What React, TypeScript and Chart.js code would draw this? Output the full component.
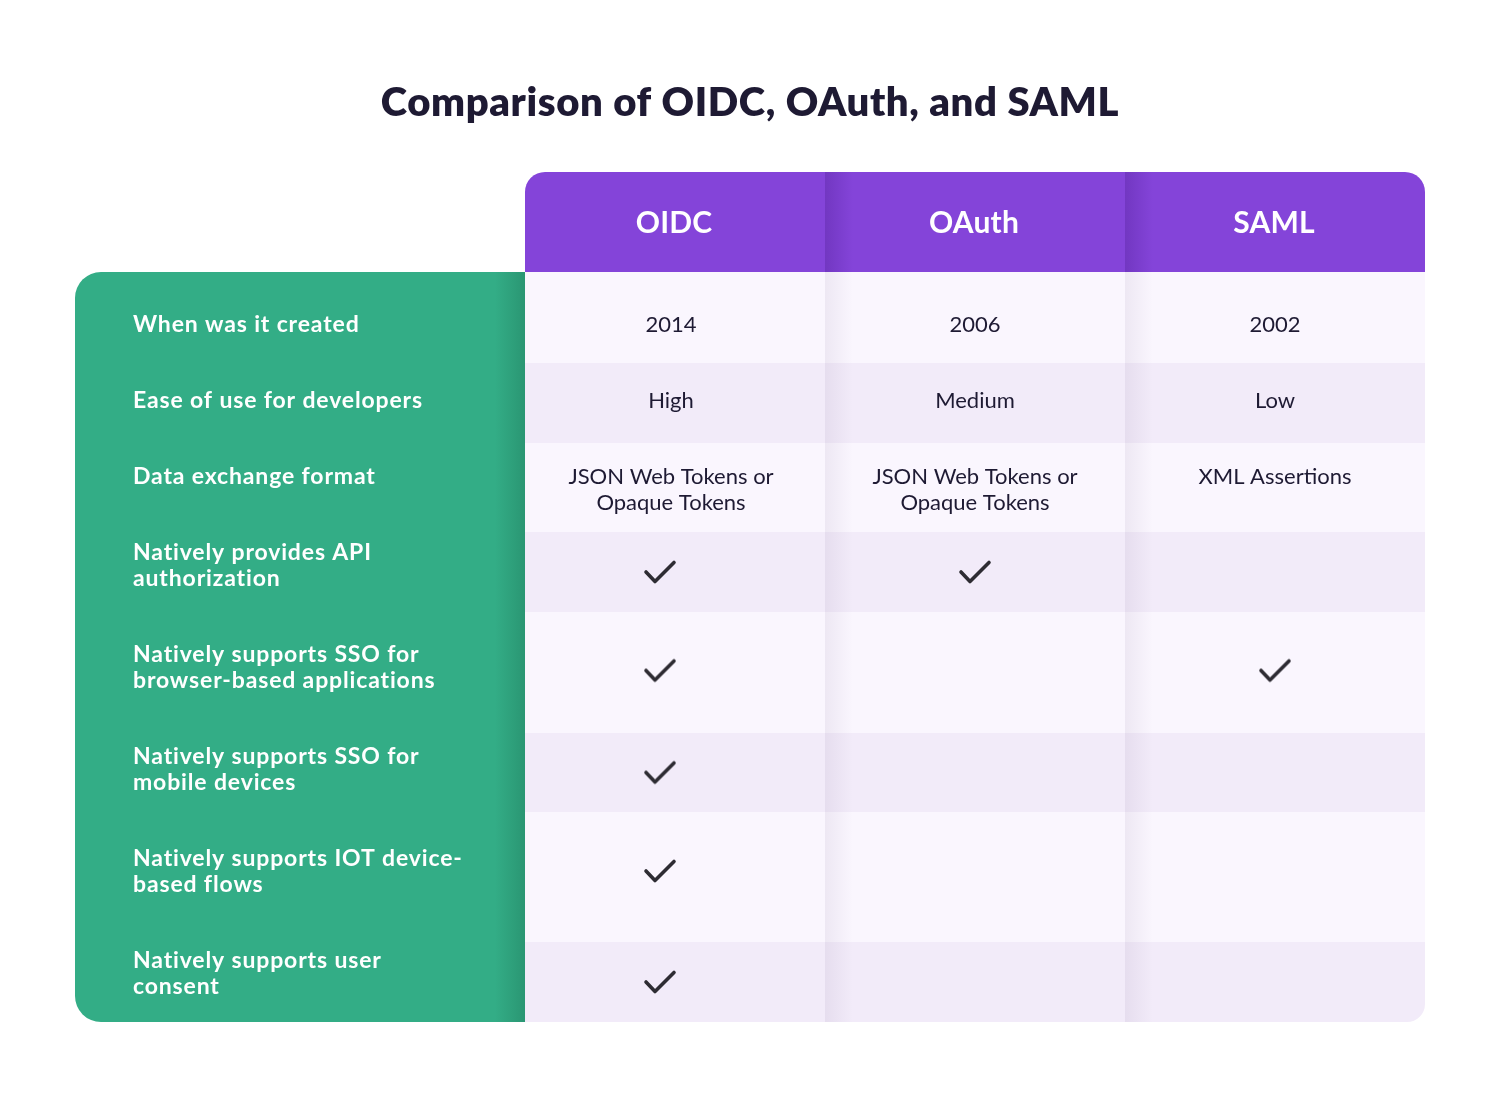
import React, { useEffect, useRef } from "react";
import { Chart, registerables } from "chart.js";

Chart.register(...registerables);

// ---------------- data ----------------
const chartTitle = "Comparison of OIDC, OAuth, and SAML";
const columns = ["OIDC", "OAuth", "SAML"];
const criteria: string[][] = [
  ["When was it created"],
  ["Ease of use for developers"],
  ["Data exchange format"],
  ["Natively provides API", "authorization"],
  ["Natively supports SSO for", "browser-based applications"],
  ["Natively supports SSO for", "mobile devices"],
  ["Natively supports IOT device-", "based flows"],
  ["Natively supports user", "consent"],
];
type Cell = string | boolean;
const oidcValues: Cell[] = ["2014", "High", "JSON Web Tokens or\nOpaque Tokens", true, true, true, true, true];
const oauthValues: Cell[] = ["2006", "Medium", "JSON Web Tokens or\nOpaque Tokens", true, false, false, false, false];
const samlValues: Cell[] = ["2002", "Low", "XML Assertions", false, true, false, false, false];
const columnValues: Cell[][] = [oidcValues, oauthValues, samlValues];
// row sizes in table units
const headerHeight = 100;
const rowHeights = [91, 80, 89, 80, 121, 79, 130, 80];

// ---------------- styles ----------------
const PURPLE = "#8444d9";
const GREEN = "#33ad86";
const ROW_LIGHT = "#faf6fe";
const ROW_DARK = "#f2ebf9";
const TEXT_DARK = "#1e1a33";
const CHECK_COLOR = "#2e2c33";
const textTopOffsets = [53, 38, 34, 21, 43, 24, 47, 19];
const LINE_H = 26;
const columnTextShift = [-4, 0, 0];
const columnCheckShift = [-15, 0, 0];
const checkRowShift = [0, 0, 0, 0, -2, 0, -6, 0];

const rowTops: number[] = [];
{
  let acc = headerHeight;
  for (const h of rowHeights) {
    rowTops.push(acc);
    acc += h;
  }
}
const tableBottom = headerHeight + rowHeights.reduce((a, b) => a + b, 0);

function makeCheck(shift: number, dy: number): HTMLCanvasElement {
  const padX = Math.abs(shift);
  const padY = Math.abs(dy);
  const w = 40 + padX * 2;
  const h = 30 + padY * 2;
  const c = document.createElement("canvas");
  c.width = w;
  c.height = h;
  const g = c.getContext("2d")!;
  const cx = w / 2 + shift;
  const cy = h / 2 + dy;
  g.strokeStyle = CHECK_COLOR;
  g.lineWidth = 3.6;
  g.lineCap = "round";
  g.lineJoin = "round";
  g.beginPath();
  g.moveTo(cx - 14, cy);
  g.lineTo(cx - 5, cy + 9.5);
  g.lineTo(cx + 14, cy - 9.5);
  g.stroke();
  return c;
}

const tablePlugin = {
  id: "tableDraw",
  beforeDraw(chart: any) {
    (chart.ctx as any).letterSpacing = "0.6px";
  },
  beforeDatasetsDraw(chart: any) {
    const ctx: CanvasRenderingContext2D = chart.ctx;
    (ctx as any).letterSpacing = "0px";
    const xs = chart.scales.x;
    const ys = chart.scales.y;
    const X = (v: number) => xs.getPixelForValue(v);
    const Y = (v: number) => ys.getPixelForValue(v);
    const left = X(-1.5);
    const x0 = X(0);
    const x3 = X(3);
    const top = Y(0);
    const bodyTop = Y(headerHeight);
    const bottom = Y(tableBottom);

    ctx.save();
    // ---- green label panel
    ctx.beginPath();
    ctx.roundRect(left, bodyTop, x0 - left, bottom - bodyTop, [26, 0, 0, 26]);
    ctx.fillStyle = GREEN;
    ctx.fill();
    ctx.save();
    ctx.clip();
    const gg = ctx.createLinearGradient(x0 - 30, 0, x0, 0);
    gg.addColorStop(0, "rgba(20,90,65,0)");
    gg.addColorStop(1, "rgba(20,90,65,0.28)");
    ctx.fillStyle = gg;
    ctx.fillRect(x0 - 30, bodyTop, 30, bottom - bodyTop);
    ctx.restore();

    // ---- header
    ctx.beginPath();
    ctx.roundRect(x0, top, x3 - x0, bodyTop - top, [20, 20, 0, 0]);
    ctx.fillStyle = PURPLE;
    ctx.fill();
    ctx.save();
    ctx.clip();
    for (let c = 1; c < columns.length; c++) {
      const bx = X(c);
      const hg = ctx.createLinearGradient(bx, 0, bx + 28, 0);
      hg.addColorStop(0, "rgba(50,10,110,0.22)");
      hg.addColorStop(1, "rgba(50,10,110,0)");
      ctx.fillStyle = hg;
      ctx.fillRect(bx, top, 28, bodyTop - top);
    }
    ctx.restore();

    // ---- body rows
    ctx.save();
    ctx.beginPath();
    ctx.roundRect(x0, bodyTop, x3 - x0, bottom - bodyTop, [0, 0, 18, 0]);
    ctx.clip();
    rowHeights.forEach((h, i) => {
      const y1 = Y(rowTops[i]);
      const y2 = Y(rowTops[i] + h);
      ctx.fillStyle = i % 2 === 0 ? ROW_LIGHT : ROW_DARK;
      ctx.fillRect(x0, y1, x3 - x0, y2 - y1);
    });
    for (let c = 1; c < columns.length; c++) {
      const bx = X(c);
      const sg = ctx.createLinearGradient(bx, 0, bx + 28, 0);
      sg.addColorStop(0, "rgba(70,40,100,0.07)");
      sg.addColorStop(1, "rgba(70,40,100,0)");
      ctx.fillStyle = sg;
      ctx.fillRect(bx, bodyTop, 28, bottom - bodyTop);
    }
    ctx.restore();

    // ---- header texts
    ctx.textAlign = "center";
    ctx.textBaseline = "middle";
    ctx.fillStyle = "#ffffff";
    ctx.font = "bold 30px Lato";
    (ctx as any).letterSpacing = "0.2px";
    columns.forEach((name, c) => {
      ctx.fillText(name, X(c + 0.5) - 1, Y(headerHeight / 2) + 1);
    });

    // ---- label texts
    ctx.textAlign = "left";
    ctx.font = "bold 23px Lato";
    (ctx as any).letterSpacing = "0.85px";
    criteria.forEach((lines, i) => {
      const y = Y(rowTops[i]) + textTopOffsets[i];
      lines.forEach((ln, k) => ctx.fillText(ln, left + 58, y + k * LINE_H));
    });

    // ---- cell texts
    ctx.textAlign = "center";
    ctx.fillStyle = TEXT_DARK;
    ctx.font = "22px Lato";
    (ctx as any).letterSpacing = "0px";
    columnValues.forEach((vals, c) => {
      vals.forEach((v, i) => {
        if (typeof v !== "string") return;
        const y = Y(rowTops[i]) + textTopOffsets[i];
        v.split("\n").forEach((ln, k) =>
          ctx.fillText(ln, X(c + 0.5) + columnTextShift[c], y + k * LINE_H)
        );
      });
    });
    (ctx as any).letterSpacing = "0px";
    ctx.restore();
  },
};

export default function App() {
  const ref = useRef<HTMLCanvasElement | null>(null);
  useEffect(() => {
    if (!ref.current) return;
    const points: { x: number; y: number }[] = [];
    const pointImages: HTMLCanvasElement[] = [];
    columnValues.forEach((vals, c) => {
      vals.forEach((v, i) => {
        if (v === true) {
          points.push({ x: c + 0.5, y: rowTops[i] + rowHeights[i] / 2 });
          pointImages.push(makeCheck(columnCheckShift[c], checkRowShift[i]));
        }
      });
    });
    const chart = new Chart(ref.current, {
      type: "scatter",
      data: {
        datasets: [
          {
            label: "Supported",
            data: points,
            pointStyle: (ctx: any) => pointImages[ctx.dataIndex] ?? pointImages[0],
            pointRadius: 15,
            showLine: false,
          } as any,
        ],
      },
      options: {
        responsive: false,
        animation: false,
        events: [],
        layout: { padding: { left: 75, right: 75, top: 0, bottom: 78 } },
        scales: {
          x: { type: "linear", min: -1.5, max: 3, display: false },
          y: { type: "linear", min: 0, max: tableBottom, reverse: true, display: false },
        },
        plugins: {
          legend: { display: false },
          tooltip: { enabled: false },
          title: {
            display: true,
            text: chartTitle,
            color: TEXT_DARK,
            font: { family: "Lato", size: 40, weight: "800", lineHeight: 1.2 },
            padding: { top: 79, bottom: 45 },
          },
        },
      },
      plugins: [tablePlugin],
    });
    return () => chart.destroy();
  }, []);
  return (
    <div style={{ position: "absolute", left: 0, top: 0 }}>
      <canvas ref={ref} width={1500} height={1100} style={{ display: "block" }} />
    </div>
  );
}
